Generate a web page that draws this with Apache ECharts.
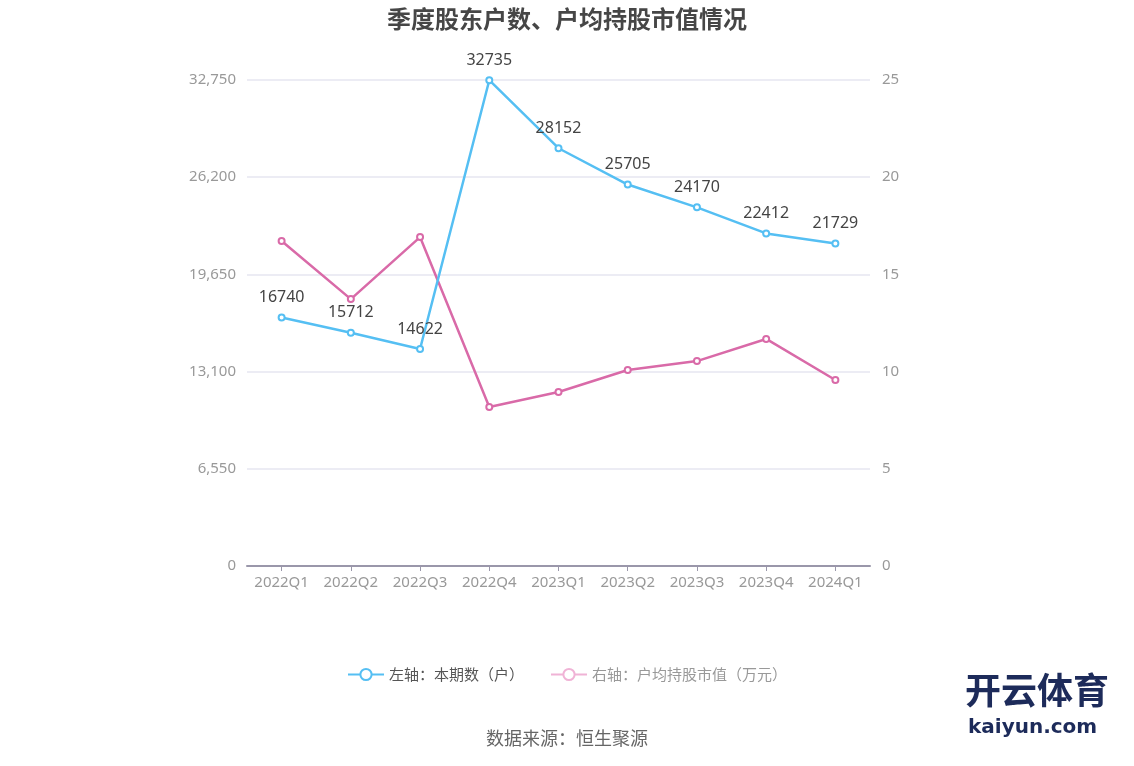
<!DOCTYPE html>
<html>
<head>
<meta charset="utf-8">
<script src="https://cdn.jsdelivr.net/npm/echarts@6/dist/echarts.min.js"></script>
<style>html,body{margin:0;padding:0;background:#fff}#c{width:1134px;height:766px}</style>
</head>
<body>
<div id="c"></div>
<script>
const categories = ['2022Q1','2022Q2','2022Q3','2022Q4','2023Q1','2023Q2','2023Q3','2023Q4','2024Q1'];
const holders = [16740, 15712, 14622, 32735, 28152, 25705, 24170, 22412, 21729];
const avgValue = [16.72, 13.73, 16.92, 8.18, 8.95, 10.08, 10.54, 11.68, 9.57];
const leftTicks = [0, 6550, 13100, 19650, 26200, 32750];
const rightTicks = [0, 5, 10, 15, 20, 25];

const chart = echarts.init(document.getElementById('c'));
const font = '"Noto Sans", "Noto Sans CJK SC", sans-serif';
chart.setOption({
  textStyle: {fontFamily: font},
  title: {
    text: '季度股东户数、户均持股市值情况',
    left: 'center', top: 2,
    textStyle: {fontSize: 24, fontWeight: 'bold', color: '#464646', fontFamily: '"Noto Sans CJK SC", sans-serif'}
  },
  legend: {
    bottom: 79, left: 'center', itemGap: 26, itemWidth: 36, itemHeight: 14,
    textStyle: {fontSize: 15, color: '#555', fontFamily: '"Noto Sans CJK SC", sans-serif'},
    data: [
      {name: '左轴：本期数（户）'},
      {name: '右轴：户均持股市值（万元）', textStyle: {color: '#999'},
       itemStyle: {color: '#f0b3d6', borderColor: '#f0b3d6'}, lineStyle: {color: '#f0b3d6'}}
    ]
  },
  grid: {left: 247, right: 264, top: 80, bottom: 200},
  xAxis: {
    type: 'category', data: categories, boundaryGap: true,
    axisLine: {lineStyle: {color: '#9a97aa', width: 2}},
    axisTick: {show: true, alignWithLabel: true, length: 5, lineStyle: {color: '#9a97aa'}},
    axisLabel: {color: '#999', fontSize: 15, margin: 9, interval: 0, fontFamily: font}
  },
  yAxis: [
    {type: 'value', min: leftTicks[0], max: leftTicks[leftTicks.length-1], interval: 6550,
     axisLine: {show: false}, axisTick: {show: false},
     axisLabel: {color: '#999', fontSize: 15, margin: 11, fontFamily: font},
     splitLine: {lineStyle: {color: '#e6e6f0', width: 1.5}}},
    {type: 'value', min: rightTicks[0], max: rightTicks[rightTicks.length-1], interval: 5,
     axisLine: {show: false}, axisTick: {show: false},
     axisLabel: {color: '#999', fontSize: 15, margin: 12, fontFamily: font},
     splitLine: {show: false}}
  ],
  series: [
    {name: '左轴：本期数（户）', type: 'line', yAxisIndex: 0, data: holders,
     symbol: 'emptyCircle', symbolSize: 6,
     lineStyle: {color: '#55bff3', width: 2.5},
     itemStyle: {color: '#55bff3', borderWidth: 2},
     label: {show: true, position: 'top', distance: 8, color: '#444', fontSize: 16, fontFamily: font},
     z: 3},
    {name: '右轴：户均持股市值（万元）', type: 'line', yAxisIndex: 1, data: avgValue,
     symbol: 'emptyCircle', symbolSize: 6,
     lineStyle: {color: '#d96aa8', width: 2.5},
     itemStyle: {color: '#d96aa8', borderWidth: 2},
     z: 2}
  ],
  graphic: [
    {type: 'text', left: 'center', top: 729,
     style: {text: '数据来源：恒生聚源', fill: '#666', font: '18px "Noto Sans CJK SC", sans-serif'}},
    {type: 'text', left: 965, top: 672,
     style: {text: '开云体育', fill: '#1d2b5a', font: 'bold 36px "Noto Sans CJK SC", sans-serif'}},
    {type: 'text', left: 968, top: 718,
     style: {text: 'kaiyun.com', fill: '#1d2b5a', font: 'bold 20px "DejaVu Sans", sans-serif'}}
  ]
});
</script>
</body>
</html>
